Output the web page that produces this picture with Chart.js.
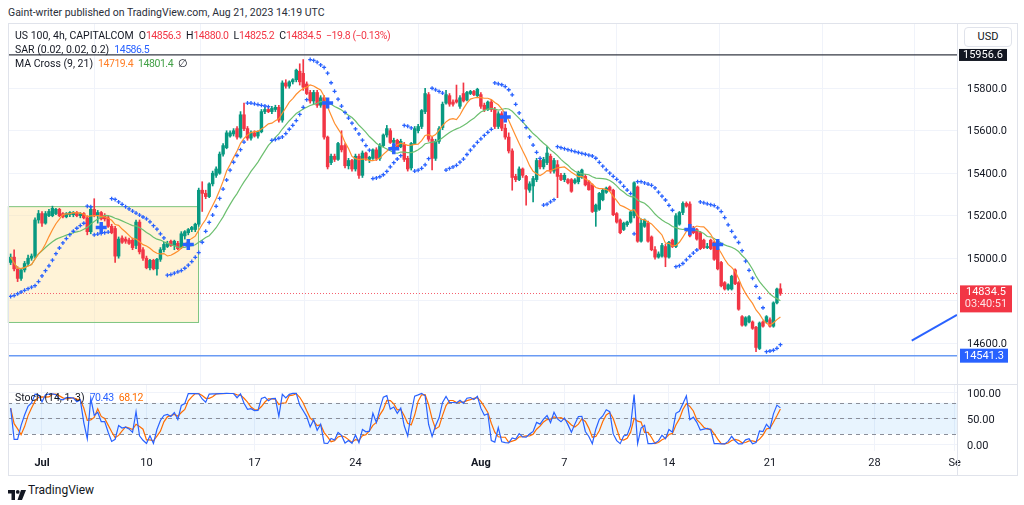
<!DOCTYPE html>
<html>
<head>
<meta charset="utf-8">
<script src="https://cdn.jsdelivr.net/npm/chart.js@4.4.0/dist/chart.umd.min.js"></script>
<style>
  body { margin: 0; width: 1024px; height: 505px; background: #fff; position: relative; overflow: hidden;
         font-family: Roboto, "Liberation Sans", sans-serif; color: #131722; }
  .box { position: absolute; }
  .txt { position: absolute; white-space: nowrap; font-size: 10.5px; line-height: 14px; }
  .txt span { margin-left: 5px; }
  .num { letter-spacing: -0.45px; }
  .line { position: absolute; background: #E0E3EB; }
  #usd { position: absolute; left: 964px; top: 27px; width: 46px; height: 18px; border: 1px solid #E0E3EB;
         border-radius: 4px; font-size: 11px; line-height: 18px; text-align: center; background: #fff; }
</style>
</head>
<body>
<div class="txt" style="left:8px;top:6px;color:#2A2E39">Gaint-writer published on TradingView.com, Aug 21, 2023 14:19 UTC</div>

<div class="box" style="left:0;top:23px;width:1024px;height:361px"><canvas id="priceChart"></canvas></div>
<div class="box" style="left:0;top:384px;width:1024px;height:91px"><canvas id="stochChart"></canvas></div>

<div class="line" style="left:8px;top:23px;width:1010px;height:1px"></div>
<div class="line" style="left:8px;top:475px;width:1010px;height:1px"></div>
<div class="line" style="left:8px;top:23px;width:1px;height:452px"></div>
<div class="line" style="left:1017px;top:23px;width:1px;height:452px"></div>
<div class="line" style="left:957px;top:23px;width:1px;height:452px"></div>
<div class="line" style="left:8px;top:384px;width:1010px;height:1px"></div>

<div class="txt" style="left:15px;top:29px">US 100, 4h, CAPITALCOM<span>O<b class="num" style="font-weight:normal;color:#F23645">14856.3</b></span><span>H<b class="num" style="font-weight:normal;color:#F23645">14880.0</b></span><span>L<b class="num" style="font-weight:normal;color:#F23645">14825.2</b></span><span>C<b class="num" style="font-weight:normal;color:#F23645">14834.5</b></span><span class="num" style="color:#F23645">−19.8 (−0.13%)</span></div>
<div class="txt" style="left:15px;top:43px">SAR (0.02, 0.02, 0.2)<span class="num" style="color:#2962FF">14586.5</span></div>
<div class="txt" style="left:15px;top:57px">MA Cross (9, 21)<span class="num" style="color:#FF7F27">14719.4</span><span class="num" style="color:#43A047">14801.4</span><span>∅</span></div>
<div class="txt" style="left:15px;top:391px">Stoch (14, 1, 3)<span class="num" style="color:#2962FF">70.43</span><span class="num" style="color:#FF6D00">68.12</span></div>
<div id="usd">USD</div>

<div class="box" style="left:8px;top:484px">
  <svg width="18" height="10" viewBox="0 0 36 20" style="vertical-align:middle">
    <path d="M0 0h14v20h-7v-13h-7z" fill="#131722"/>
    <circle cx="19.5" cy="3.8" r="3.8" fill="#131722"/>
    <path d="M26 0h10l-8 20h-9z" fill="#131722"/>
  </svg>
</div>
<div class="txt" style="left:28px;top:482px;font-size:12px;line-height:16px">TradingView</div>

<script>
// x axis: candle index, labels on the weekly ticks
const tickIdx = [9, 39, 70, 99, 135, 159, 189, 218, 248, 271];
const tickLabels = ['Jul', '10', '17', '24', 'Aug', '7', '14', '21', '28', 'Se'];
const priceTicks = [14600, 14800, 15000, 15200, 15400, 15600, 15800];
const stochTicks = [0, 50, 100];

// 4h candles, Jun 30 -> Aug 21
const opens = [
  14980,15005,14950,14905,14945,14975,15000,15010,15180,15210,
  15165,15200,15200,15210,15230,15210,15195,15205,15205,15215,
  15200,15210,15190,15125,15230,15205,15215,15200,15190,15150,
  15140,15010,15095,15090,15085,15085,15060,15170,15040,15000,
  14955,14990,14950,14995,15040,15055,15080,15060,15070,15050,
  15105,15120,15135,15135,15160,15320,15305,15290,15350,15390,
  15400,15490,15520,15575,15585,15610,15570,15675,15610,15565,
  15590,15575,15595,15690,15700,15690,15700,15710,15650,15825,
  15810,15830,15840,15880,15870,15820,15780,15740,15780,15720,
  15755,15570,15450,15480,15465,15530,15530,15435,15460,15420,
  15480,15390,15495,15465,15470,15510,15470,15530,15580,15600,
  15545,15555,15525,15535,15470,15425,15540,15600,15620,15690,
  15770,15560,15470,15550,15615,15730,15765,15735,15745,15715,
  15775,15745,15775,15785,15765,15770,15720,15700,15735,15700,
  15620,15680,15612,15570,15505,15385,15370,15420,15385,15320,
  15340,15370,15460,15430,15450,15480,15410,15440,15390,15370,
  15370,15370,15355,15360,15380,15385,15360,15345,15220,15230,
  15275,15310,15335,15320,15210,15180,15135,15158,15170,15200,
  15335,15080,15150,15165,15100,15040,15005,15010,15055,15005,
  15085,15055,15160,15215,15258,15255,15140,15135,15120,15085,
  15050,15085,15075,15040,14980,14885,14855,14855,14945,14885,
  14725,14685,14700,14700,14675,14575,14700,14700,14710,14680,
  14790,14856.3
];
const highs = [
  15020,15040,14960,14950,14985,15015,15020,15190,15225,15220,
  15220,15230,15245,15235,15235,15215,15215,15220,15220,15220,
  15215,15215,15200,15240,15280,15225,15220,15210,15200,15160,
  15150,15100,15105,15100,15095,15095,15180,15180,15050,15010,
  14995,14995,15000,15050,15075,15080,15085,15085,15080,15125,
  15130,15140,15150,15165,15330,15360,15320,15355,15410,15430,
  15500,15540,15600,15600,15610,15620,15690,15730,15620,15600,
  15600,15600,15700,15710,15710,15715,15720,15720,15835,15840,
  15835,15845,15890,15915,15935,15830,15790,15790,15790,15765,
  15765,15575,15490,15490,15545,15600,15540,15470,15465,15490,
  15490,15505,15500,15480,15515,15520,15540,15585,15625,15610,
  15565,15560,15560,15545,15480,15545,15620,15630,15700,15800,
  15780,15570,15560,15620,15735,15790,15775,15745,15815,15765,
  15825,15785,15790,15790,15800,15780,15730,15740,15745,15710,
  15690,15690,15630,15590,15515,15395,15430,15425,15390,15360,
  15385,15470,15470,15475,15525,15490,15470,15460,15400,15400,
  15375,15375,15375,15410,15420,15395,15365,15350,15255,15310,
  15325,15335,15340,15325,15215,15185,15170,15175,15220,15360,
  15340,15185,15185,15175,15105,15055,15030,15070,15065,15080,
  15090,15210,15220,15265,15265,15265,15150,15140,15125,15090,
  15070,15090,15080,15045,14985,14890,14880,14920,14950,14890,
  14730,14725,14730,14705,14680,14700,14705,14730,14720,14795,
  14860,14880
];
const lows = [
  14970,14940,14890,14895,14935,14965,14990,15000,15165,15150,
  15160,15195,15195,15205,15195,15190,15190,15195,15195,15195,
  15190,15185,15110,15115,15195,15165,15180,15175,15145,15115,
  14980,15000,15070,15070,15065,15040,15045,15020,14990,14950,
  14945,14945,14920,14985,15030,15050,15055,15040,15040,15045,
  15090,15110,15125,15125,15150,15220,15280,15285,15340,15380,
  15395,15480,15515,15570,15575,15560,15565,15600,15555,15555,
  15570,15565,15590,15680,15685,15680,15690,15640,15640,15800,
  15800,15820,15830,15815,15790,15770,15730,15725,15710,15710,
  15560,15420,15440,15455,15460,15500,15425,15420,15410,15410,
  15375,15380,15460,15450,15465,15460,15460,15525,15570,15540,
  15520,15515,15520,15455,15410,15415,15535,15590,15610,15680,
  15550,15415,15460,15540,15605,15725,15715,15715,15730,15705,
  15735,15740,15770,15765,15760,15705,15690,15695,15690,15610,
  15610,15600,15560,15495,15320,15360,15365,15380,15250,15310,
  15265,15360,15420,15420,15440,15400,15400,15285,15365,15360,
  15350,15310,15350,15350,15375,15340,15320,15215,15150,15225,
  15270,15305,15315,15200,15165,15115,15130,15150,15165,15190,
  15075,15075,15145,15075,15035,14995,15000,15005,14960,15000,
  15050,15050,15155,15205,15240,15100,15115,15085,15040,15045,
  15045,15040,14990,14945,14865,14850,14850,14850,14875,14755,
  14680,14680,14695,14665,14560,14570,14675,14695,14675,14675,
  14785,14825.2
];
const closes = [
  15005,14950,14905,14945,14975,15000,15010,15180,15210,15165,
  15210,15220,15235,15230,15200,15195,15210,15215,15215,15200,
  15210,15190,15125,15230,15205,15215,15185,15185,15150,15120,
  15010,15090,15075,15080,15070,15050,15170,15030,15000,14955,
  14990,14950,14995,15040,15065,15070,15060,15080,15045,15115,
  15125,15135,15145,15160,15320,15305,15290,15350,15400,15420,
  15490,15530,15590,15590,15600,15570,15675,15610,15565,15590,
  15575,15595,15690,15700,15690,15705,15710,15650,15825,15810,
  15830,15840,15885,15830,15805,15775,15740,15780,15720,15755,
  15570,15430,15480,15465,15540,15510,15435,15460,15420,15480,
  15390,15495,15470,15475,15510,15470,15530,15580,15610,15545,
  15555,15525,15550,15465,15420,15540,15610,15620,15695,15775,
  15560,15470,15550,15610,15725,15770,15725,15725,15735,15755,
  15740,15780,15785,15770,15795,15715,15700,15735,15700,15620,
  15680,15612,15570,15505,15380,15370,15420,15390,15325,15350,
  15375,15460,15430,15465,15495,15410,15460,15385,15370,15390,
  15355,15315,15368,15405,15415,15345,15322,15220,15250,15305,
  15320,15330,15320,15205,15170,15120,15165,15170,15218,15355,
  15080,15165,15180,15080,15040,15005,15020,15060,15005,15075,
  15055,15200,15215,15258,15245,15105,15120,15090,15045,15050,
  15055,15045,14995,14950,14870,14855,14875,14915,14880,14760,
  14685,14720,14725,14670,14580,14695,14680,14725,14680,14790,
  14855,14834.5
];

// MA cross markers
const maCrossIdx = [26, 51, 91, 110, 142, 195, 203];
const maCrossPrice = [15145, 15065, 15731, 15515, 15665, 15135, 15065];

// drawings
const sarStart = 14820;
const topLine = 15956.6;
const supportLine = 14541.3;
const lastPrice = 14834.5;
const rangeBoxX = [-0.8, 53.8];
const rangeBoxY = [14700, 15245];
const trendX = [258.7, 271.7];
const trendY = [14612, 14733];

const xMin = -0.76, xMax = 271.7;
const upColor = '#089981', downColor = '#F23645';
const gridColor = '#F0F3FA', textColor = '#131722';

Chart.defaults.font.family = 'Roboto, "Liberation Sans", sans-serif';

function sma(arr, n) {
  return arr.map((v, i) => {
    const s = arr.slice(Math.max(0, i - n + 1), i + 1);
    return s.reduce((a, b) => a + b, 0) / s.length;
  });
}

function parabolicSar() {
  const out = [sarStart];
  let up = true, af = 0.02, ep = highs[0], sar = sarStart;
  for (let i = 1; i < closes.length; i++) {
    sar = sar + af * (ep - sar);
    if (up) {
      sar = Math.min(sar, lows[i - 1], lows[Math.max(0, i - 2)]);
      if (lows[i] < sar) { up = false; sar = ep; ep = lows[i]; af = 0.02; }
      else if (highs[i] > ep) { ep = highs[i]; af = Math.min(af + 0.02, 0.2); }
    } else {
      sar = Math.max(sar, highs[i - 1], highs[Math.max(0, i - 2)]);
      if (highs[i] > sar) { up = true; sar = ep; ep = highs[i]; af = 0.02; }
      else if (lows[i] < ep) { ep = lows[i]; af = Math.min(af + 0.02, 0.2); }
    }
    out.push(sar);
  }
  return out;
}

function stochastic(n) {
  return closes.map((c, i) => {
    const from = Math.max(0, i - n + 1);
    const hh = Math.max(...highs.slice(from, i + 1));
    const ll = Math.min(...lows.slice(from, i + 1));
    return hh === ll ? 50 : 100 * (c - ll) / (hh - ll);
  });
}

const ma9 = sma(closes, 9);
const ma21 = sma(closes, 21);
const sar = parabolicSar();
const stochK = stochastic(14);
const stochD = sma(stochK, 3);
const candleColors = closes.map((c, i) => c >= opens[i] ? upColor : downColor);
const pts = arr => arr.map((v, i) => ({ x: i, y: v }));

function label(ctx, text, x, y, w, h, bg, fg) {
  ctx.fillStyle = bg;
  ctx.fillRect(x, y, w, h);
  ctx.fillStyle = fg;
  ctx.font = '11px Roboto, "Liberation Sans", sans-serif';
  ctx.textAlign = 'center';
  ctx.textBaseline = 'middle';
  ctx.fillText(text, x + w / 2, y + h / 2 + 0.5);
}

const priceOverlay = {
  id: 'priceOverlay',
  beforeDatasetsDraw(chart) {
    const { ctx, chartArea: a, scales: { x, y } } = chart;
    ctx.save();
    const bx0 = x.getPixelForValue(rangeBoxX[0]), bx1 = x.getPixelForValue(rangeBoxX[1]);
    const by0 = y.getPixelForValue(rangeBoxY[1]), by1 = y.getPixelForValue(rangeBoxY[0]);
    ctx.fillStyle = 'rgba(255, 226, 160, 0.42)';
    ctx.fillRect(bx0, by0, bx1 - bx0, by1 - by0);
    ctx.strokeStyle = '#7CC47F';
    ctx.lineWidth = 1;
    ctx.strokeRect(bx0 + 0.5, by0 + 0.5, bx1 - bx0, by1 - by0);

    let py = y.getPixelForValue(topLine);
    ctx.strokeStyle = '#363A45';
    ctx.lineWidth = 1.3;
    ctx.beginPath(); ctx.moveTo(a.left, py); ctx.lineTo(a.right, py); ctx.stroke();

    py = y.getPixelForValue(supportLine);
    ctx.strokeStyle = '#6A9BF4';
    ctx.lineWidth = 1.5;
    ctx.beginPath(); ctx.moveTo(a.left, py); ctx.lineTo(a.right, py); ctx.stroke();

    py = Math.round(y.getPixelForValue(lastPrice)) + 0.5;
    ctx.strokeStyle = '#F5606E';
    ctx.lineWidth = 1;
    ctx.setLineDash([1, 2]);
    ctx.beginPath(); ctx.moveTo(a.left, py); ctx.lineTo(a.right, py); ctx.stroke();
    ctx.restore();
  },
  afterDraw(chart) {
    const { ctx, scales: { y } } = chart;
    ctx.save();
    label(ctx, topLine.toFixed(1), 959, y.getPixelForValue(topLine) - 6, 48, 12, '#131722', '#fff');
    const ly = y.getPixelForValue(lastPrice);
    ctx.fillStyle = '#F23645';
    ctx.fillRect(960, ly - 8, 52, 27);
    ctx.fillStyle = '#fff';
    ctx.font = '11px Roboto, "Liberation Sans", sans-serif';
    ctx.textAlign = 'center';
    ctx.textBaseline = 'middle';
    ctx.fillText(lastPrice.toFixed(1), 986, ly - 1);
    ctx.fillStyle = 'rgba(255,255,255,0.85)';
    ctx.fillText('03:40:51', 986, ly + 11);
    label(ctx, supportLine.toFixed(1), 960, y.getPixelForValue(supportLine) - 7, 48, 14, '#2962FF', '#fff');
    ctx.restore();
  }
};

const stochOverlay = {
  id: 'stochOverlay',
  beforeDatasetsDraw(chart) {
    const { ctx, chartArea: a, scales: { y } } = chart;
    ctx.save();
    const y80 = y.getPixelForValue(80), y20 = y.getPixelForValue(20);
    ctx.fillStyle = 'rgba(33, 150, 243, 0.1)';
    ctx.fillRect(a.left, y80, a.right - a.left, y20 - y80);
    ctx.strokeStyle = '#8A8E99';
    ctx.lineWidth = 1;
    ctx.setLineDash([4, 4]);
    [80, 50, 20].forEach(v => {
      const py = Math.round(y.getPixelForValue(v)) + 0.5;
      ctx.beginPath(); ctx.moveTo(a.left, py); ctx.lineTo(a.right, py); ctx.stroke();
    });
    ctx.restore();
  }
};

const xTicksAt = s => { s.ticks = tickIdx.map(v => ({ value: v })); };
// right axis: fixed width, no extra label padding above/below the plot
const fitRight = s => { s.width = 67; s.paddingTop = 0; s.paddingBottom = 0; };

new Chart(document.getElementById('priceChart'), {
  type: 'bar',
  data: {
    datasets: [
      { type: 'line', data: trendX.map((v, i) => ({ x: v, y: trendY[i] })), borderColor: '#2962FF', borderWidth: 2, pointRadius: 0 },
      { type: 'line', data: maCrossIdx.map((v, i) => ({ x: v, y: maCrossPrice[i] })), showLine: false,
        pointStyle: 'cross', pointRadius: 5.5, borderWidth: 3.5, borderColor: '#2962FF' },
      { type: 'line', data: pts(sar), showLine: false, pointStyle: 'cross', pointRadius: 2, borderWidth: 1.3, borderColor: '#2962FF' },
      { type: 'line', data: pts(ma9), borderColor: '#FF8F2E', borderWidth: 1.2, pointRadius: 0 },
      { type: 'line', data: pts(ma21), borderColor: '#6CBF6F', borderWidth: 1.2, pointRadius: 0 },
      { data: opens.map((o, i) => ({ x: i, y: [o, closes[i]] })), backgroundColor: candleColors,
        barThickness: 2.8, minBarLength: 1, grouped: false },
      { data: lows.map((l, i) => ({ x: i, y: [l, highs[i]] })), backgroundColor: candleColors,
        barThickness: 1, grouped: false }
    ]
  },
  options: {
    responsive: true, maintainAspectRatio: false, animation: false, events: [],
    layout: { autoPadding: false, padding: { left: 8, top: 0, right: 0, bottom: 0 } },
    plugins: { legend: { display: false }, tooltip: { enabled: false } },
    scales: {
      x: { type: 'linear', min: xMin, max: xMax, offset: false, afterBuildTicks: xTicksAt,
           afterFit: s => { s.height = 0; s.paddingLeft = 0; s.paddingRight = 0; },
           ticks: { display: false }, grid: { color: gridColor, drawTicks: false }, border: { display: false } },
      y: { position: 'right', min: 14408, max: 16107,
           afterBuildTicks: s => { s.ticks = priceTicks.map(v => ({ value: v })); },
           afterFit: fitRight,
           ticks: { callback: v => v.toFixed(1), color: textColor, font: { size: 11 }, padding: 10, labelOffset: 1 },
           grid: { color: gridColor, drawTicks: false }, border: { display: false } }
    }
  },
  plugins: [priceOverlay]
});

new Chart(document.getElementById('stochChart'), {
  type: 'line',
  data: {
    datasets: [
      { data: pts(stochK), borderColor: '#2962FF', borderWidth: 1.2, pointRadius: 0 },
      { data: pts(stochD), borderColor: '#FF6D00', borderWidth: 1.2, pointRadius: 0 }
    ]
  },
  options: {
    responsive: true, maintainAspectRatio: false, animation: false, events: [],
    layout: { autoPadding: false, padding: { left: 8, top: 0, right: 0, bottom: 0 } },
    plugins: { legend: { display: false }, tooltip: { enabled: false } },
    scales: {
      x: { type: 'linear', min: xMin, max: xMax, offset: false, afterBuildTicks: xTicksAt,
           afterFit: s => { s.height = 24; s.paddingLeft = 0; s.paddingRight = 0; },
           ticks: { callback: v => tickLabels[tickIdx.indexOf(v)], color: textColor, padding: 6,
                    autoSkip: false, maxRotation: 0,
                    font: c => ({ size: 11, weight: c.tick && (c.tick.label === 'Jul' || c.tick.label === 'Aug') ? 'bold' : 'normal' }) },
           grid: { color: gridColor, drawTicks: false }, border: { display: false } },
      y: { position: 'right', min: -12.5, max: 116.3,
           afterBuildTicks: s => { s.ticks = stochTicks.map(v => ({ value: v })); },
           afterFit: fitRight,
           ticks: { callback: v => v.toFixed(2), color: textColor, font: { size: 11 }, padding: 10, labelOffset: 2 },
           grid: { color: gridColor, drawTicks: false }, border: { display: false } }
    }
  },
  plugins: [stochOverlay]
});
</script>
</body>
</html>
